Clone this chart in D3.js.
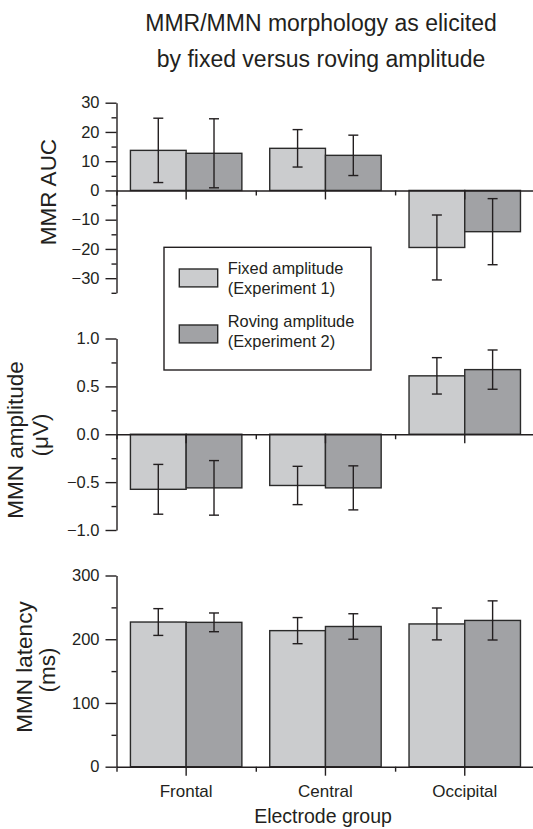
<!DOCTYPE html>
<html>
<head>
<meta charset="utf-8">
<script src="https://cdn.jsdelivr.net/npm/d3@7"></script>
<style>
  body { margin: 0; background: #fff; }
  text { font-family: "Liberation Sans", Arial, Helvetica, sans-serif; fill: #231f20; }
</style>
</head>
<body>
<div id="chart"></div>
<script>
const categories = ["Frontal", "Central", "Occipital"];
const seriesKeys = ["fixed", "roving"];
const legendLines = [["Fixed amplitude", "(Experiment 1)"], ["Roving amplitude", "(Experiment 2)"]];

// MMR AUC
const mmrFixed = [13.7, 14.4, -19.5];
const mmrFixedErr = [11.0, 6.4, 11.1];
const mmrRoving = [12.7, 12.0, -14.1];
const mmrRovingErr = [11.8, 6.9, 11.3];

// MMN amplitude (µV)
const ampFixed = [-0.575, -0.535, 0.61];
const ampFixedErr = [0.26, 0.20, 0.19];
const ampRoving = [-0.56, -0.56, 0.675];
const ampRovingErr = [0.285, 0.23, 0.205];

// MMN latency (ms)
const latFixed = [227, 213.5, 224];
const latFixedErr = [21, 20.5, 25];
const latRoving = [226.5, 220, 229.5];
const latRovingErr = [14.7, 20, 30.7];

const W = 533, H = 829;
const left = 116.5, step = 139.3;
const ink = "#231f20";
const fills = { fixed: "#cbccce", roving: "#a1a2a5" };

const svg = d3.select("#chart").append("svg")
    .attr("width", W)
    .attr("height", H);

const x = d3.scaleBand()
    .domain(categories)
    .range([left, left + 3 * step])
    .paddingInner(0.2)
    .paddingOuter(0.1);

const xSub = d3.scaleBand()
    .domain(seriesKeys)
    .range([0, x.bandwidth()]);

const xEdge = d3.scaleLinear().domain([0, 3]).range([left, left + 3 * step]);

// title
svg.append("text").attr("x", 321).attr("y", 31).attr("text-anchor", "middle")
    .style("font-size", "23px").text("MMR/MMN morphology as elicited");
svg.append("text").attr("x", 321).attr("y", 67).attr("text-anchor", "middle")
    .style("font-size", "23px").text("by fixed versus roving amplitude");

const panels = [
    { fixed: mmrFixed, fixedErr: mmrFixedErr, roving: mmrRoving, rovingErr: mmrRovingErr,
      domain: [-35, 30], range: [292.8, 102.7],
      major: [-30, -20, -10, 0, 10, 20, 30], minor: [-35, -25, -15, -5, 5, 15, 25],
      fmt: d3.format("d"),
      labels: [{ text: "MMR AUC", x: 56, y: 192 }] },
    { fixed: ampFixed, fixedErr: ampFixedErr, roving: ampRoving, rovingErr: ampRovingErr,
      domain: [-1, 1], range: [530, 338.5],
      major: [-1, -0.5, 0, 0.5, 1], minor: [-0.75, -0.25, 0.25, 0.75],
      fmt: d3.format(".1f"),
      labels: [{ text: "MMN amplitude", x: 23, y: 440 }, { text: "(μV)", x: 47.5, y: 435 }] },
    { fixed: latFixed, fixedErr: latFixedErr, roving: latRoving, rovingErr: latRovingErr,
      domain: [0, 300], range: [766.7, 575.5],
      major: [0, 100, 200, 300], minor: [50, 150, 250],
      fmt: d3.format("d"),
      labels: [{ text: "MMN latency", x: 31.5, y: 667 }, { text: "(ms)", x: 55, y: 670 }],
      showCats: true }
];

panels.forEach(p => {
    const y = d3.scaleLinear().domain(p.domain).range(p.range);
    const g = svg.append("g");

    const rows = categories.map((c, i) => seriesKeys.map(k => ({
        cat: c, key: k, value: p[k][i], err: p[k + "Err"][i]
    }))).flat();

    g.selectAll("rect.bar")
        .data(rows)
        .enter()
        .append("rect")
        .attr("class", "bar")
        .attr("x", d => x(d.cat) + xSub(d.key))
        .attr("y", d => y(Math.max(0, d.value)))
        .attr("width", xSub.bandwidth())
        .attr("height", d => Math.abs(y(d.value) - y(0)))
        .attr("fill", d => fills[d.key])
        .attr("stroke", "#2a2a2a")
        .attr("stroke-width", 1.4);

    const eb = g.selectAll("g.err")
        .data(rows)
        .enter()
        .append("g")
        .attr("class", "err")
        .attr("stroke", ink)
        .attr("stroke-width", 1.4);
    const cx = d => x(d.cat) + xSub(d.key) + xSub.bandwidth() / 2;
    eb.append("line")
        .attr("x1", cx).attr("x2", cx)
        .attr("y1", d => y(d.value - d.err)).attr("y2", d => y(d.value + d.err));
    eb.append("line")
        .attr("x1", d => cx(d) - 5).attr("x2", d => cx(d) + 5)
        .attr("y1", d => y(d.value + d.err)).attr("y2", d => y(d.value + d.err));
    eb.append("line")
        .attr("x1", d => cx(d) - 5).attr("x2", d => cx(d) + 5)
        .attr("y1", d => y(d.value - d.err)).attr("y2", d => y(d.value - d.err));

    // y axis
    const yMinor = g.append("g")
        .attr("transform", "translate(" + left + ",0)")
        .call(d3.axisLeft(y).tickValues(p.minor).tickSize(5).tickSizeOuter(0).tickFormat(""));
    const yMajor = g.append("g")
        .attr("transform", "translate(" + left + ",0)")
        .call(d3.axisLeft(y).tickValues(p.major).tickSize(11).tickSizeOuter(0).tickPadding(6).tickFormat(p.fmt));
    yMajor.select(".domain").remove();

    // x axis at zero
    const xMajor = g.append("g")
        .attr("transform", "translate(0," + y(0) + ")")
        .call(d3.axisBottom(x).tickSize(9).tickSizeOuter(0).tickPadding(9));
    const xMinor = g.append("g")
        .attr("transform", "translate(0," + y(0) + ")")
        .call(d3.axisBottom(xEdge).tickValues([0, 1, 2, 3]).tickSize(5).tickSizeOuter(0).tickFormat(""));
    xMinor.select(".domain").remove();
    if (!p.showCats) xMajor.selectAll(".tick text").remove();

    [yMinor, yMajor, xMajor, xMinor].forEach(a => {
        a.selectAll("path, line").attr("stroke", ink).attr("stroke-width", 1.4);
        a.selectAll("text").style("font-size", "16.5px").attr("fill", ink)
            .style("font-family", "'Liberation Sans', Arial, sans-serif");
    });
    xMajor.selectAll(".tick text").style("font-size", "17px");

    p.labels.forEach(l => {
        svg.append("text")
            .attr("transform", "translate(" + l.x + "," + l.y + ") rotate(-90)")
            .attr("text-anchor", "middle")
            .style("font-size", "22.5px")
            .text(l.text);
    });
});

// x axis title
svg.append("text").attr("x", 323).attr("y", 823).attr("text-anchor", "middle")
    .style("font-size", "19.5px").text("Electrode group");

// legend
const lg = svg.append("g");
lg.append("rect")
    .attr("x", 164).attr("y", 247.3).attr("width", 207).attr("height", 122.7)
    .attr("fill", "#fff").attr("stroke", ink).attr("stroke-width", 1.4);
const legY = [269, 325];
const legText = [[274.3, 294], [327.3, 346.7]];
seriesKeys.forEach((k, i) => {
    lg.append("rect")
        .attr("x", 179.3).attr("y", legY[i]).attr("width", 38.4).attr("height", 17.9)
        .attr("fill", fills[k]).attr("stroke", "#2a2a2a").attr("stroke-width", 1.4);
    legendLines[i].forEach((t, j) => {
        lg.append("text").attr("x", 227.7).attr("y", legText[i][j])
            .style("font-size", "16.4px").text(t);
    });
});
</script>
</body>
</html>
